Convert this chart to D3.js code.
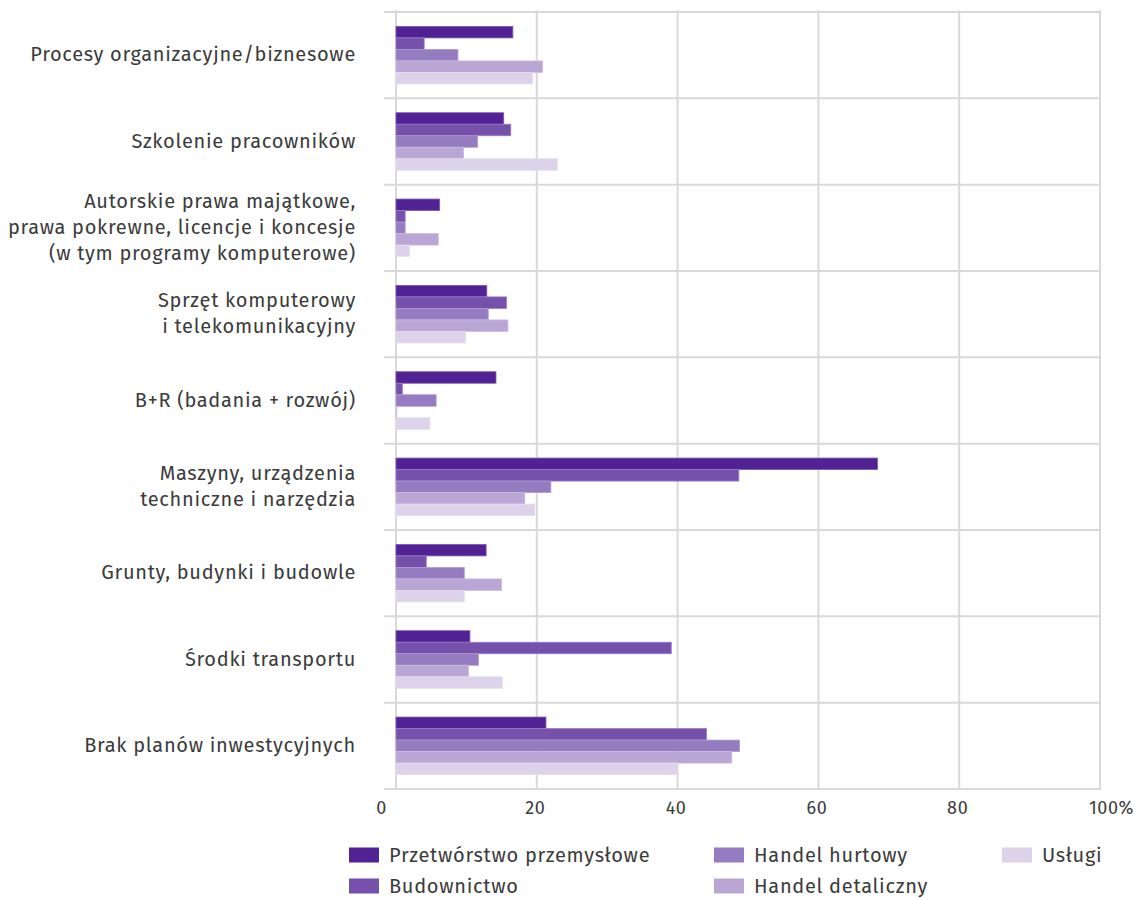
<!DOCTYPE html>
<html>
<head>
<meta charset="utf-8">
<script src="https://cdn.jsdelivr.net/npm/d3@7"></script>
<style>
  html, body { margin: 0; padding: 0; background: #fff; }
  svg { display: block; }
  text { font-family: "Fira Sans", "Open Sans", "Noto Sans", sans-serif; fill: #3b3b3b; }
</style>
</head>
<body>
<svg id="chart" width="1135" height="899"></svg>
<script>
const categories = [
  ["Procesy organizacyjne/biznesowe"],
  ["Szkolenie pracowników"],
  ["Autorskie prawa majątkowe,", "prawa pokrewne, licencje i koncesje", "(w tym programy komputerowe)"],
  ["Sprzęt komputerowy", "i telekomunikacyjny"],
  ["B+R (badania + rozwój)"],
  ["Maszyny, urządzenia", "techniczne i narzędzia"],
  ["Grunty, budynki i budowle"],
  ["Środki transportu"],
  ["Brak planów inwestycyjnych"]
];
const seriesNames = ["Przetwórstwo przemysłowe", "Budownictwo", "Handel hurtowy", "Handel detaliczny", "Usługi"];
const przetworstwo = [16.6, 15.3, 6.2, 12.9, 14.2, 68.4, 12.8, 10.5, 21.3];
const budownictwo  = [4.0, 16.3, 1.3, 15.7, 0.9, 48.7, 4.3, 39.1, 44.1];
const hurtowy      = [8.8, 11.6, 1.3, 13.1, 5.7, 22.0, 9.7, 11.7, 48.8];
const detaliczny   = [20.8, 9.6, 6.0, 15.9, 0.1, 18.3, 15.0, 10.3, 47.7];
const uslugi       = [19.4, 22.9, 1.9, 9.9, 4.8, 19.7, 9.7, 15.1, 40.0];
const seriesValues = [przetworstwo, budownictwo, hurtowy, detaliczny, uslugi];
const colors = ["#512294", "#7551ab", "#957bbf", "#b9a6d5", "#dcd2ea"];
const xTicks = [0, 20, 40, 60, 80, 100];

const svg = d3.select("#chart");
const mLeft = 396, mRight = 1100, mTop = 12, mBottom = 789;

const x = d3.scaleLinear().domain([0, 100]).range([mLeft, mRight]);
const catIdx = categories.map((d, i) => i);
const y = d3.scaleBand().domain(catIdx).range([mTop, mBottom]).padding(0);
const yInner = d3.scaleBand().domain(d3.range(seriesNames.length))
  .range([0, y.bandwidth()]).paddingInner(0).paddingOuter(1.25);

const grid = "#d9d9d9";

// vertical gridlines
svg.append("g").selectAll("line").data(xTicks).join("line")
  .attr("x1", d => x(d)).attr("x2", d => x(d))
  .attr("y1", mTop - 2).attr("y2", mBottom)
  .attr("stroke", grid).attr("stroke-width", 2);

// horizontal category separators
const seps = d3.range(categories.length + 1);
svg.append("g").selectAll("line").data(seps).join("line")
  .attr("x1", mLeft - 12).attr("x2", mRight + 1)
  .attr("y1", d => d < categories.length ? y(d) : mBottom)
  .attr("y2", d => d < categories.length ? y(d) : mBottom)
  .attr("stroke", grid).attr("stroke-width", 2);

// bars
const groups = svg.append("g").selectAll("g").data(catIdx).join("g")
  .attr("transform", i => `translate(0,${y(i)})`);
groups.selectAll("rect")
  .data(i => seriesValues.map((vals, s) => ({ s, v: vals[i] })))
  .join("rect")
  .attr("x", x(0))
  .attr("y", d => yInner(d.s))
  .attr("width", d => x(d.v) - x(0))
  .attr("height", yInner.bandwidth())
  .attr("fill", d => colors[d.s])
  .attr("stroke", d => d3.interpolateRgb(colors[d.s], "#ffffff")(0.25))
  .attr("stroke-width", 0.8);

// x axis labels
const xAxis = d3.axisBottom(x).tickValues(xTicks).tickSize(0).tickPadding(0)
  .tickFormat(d => d === 100 ? "100%" : d);
const gx = svg.append("g").attr("transform", `translate(0,${mBottom})`).call(xAxis);
gx.select(".domain").remove();
gx.selectAll("text")
  .attr("y", 19).attr("dy", "0.32em")
  .style("font-size", "18px")
  .style("letter-spacing", "0.6px")
  .attr("text-anchor", "middle")
  .attr("dx", d => d === 0 ? -15 : (d === 100 ? 11 : -2));

// category labels
const lineH = 26;
const lab = svg.append("g").selectAll("text").data(catIdx).join("text")
  .attr("text-anchor", "end")
  .style("font-size", "20px")
  .style("letter-spacing", "0.7px")
  .attr("transform", i => `translate(356,${y(i) + y.bandwidth() / 2 - 1})`);
lab.selectAll("tspan").data(i => categories[i].map((t, k, arr) => ({ t, k, n: arr.length })))
  .join("tspan")
  .attr("x", 0)
  .attr("y", d => (d.k - (d.n - 1) / 2) * lineH)
  .attr("dy", "0.35em")
  .text(d => d.t);

// legend
const legendPos = [
  { x: 349, y: 855 }, { x: 349, y: 886 },
  { x: 714, y: 855 }, { x: 714, y: 886 },
  { x: 1002, y: 855 }
];
const lg = svg.append("g").selectAll("g").data(seriesNames).join("g")
  .attr("transform", (d, i) => `translate(${legendPos[i].x},${legendPos[i].y})`);
lg.append("rect").attr("x", 0).attr("y", -7.5).attr("width", 30).attr("height", 15)
  .attr("fill", (d, i) => colors[i]);
lg.append("text").attr("x", 40).attr("y", 0).attr("dy", "0.35em")
  .style("font-size", "20px").style("letter-spacing", "0.7px").text(d => d);
</script>
</body>
</html>
